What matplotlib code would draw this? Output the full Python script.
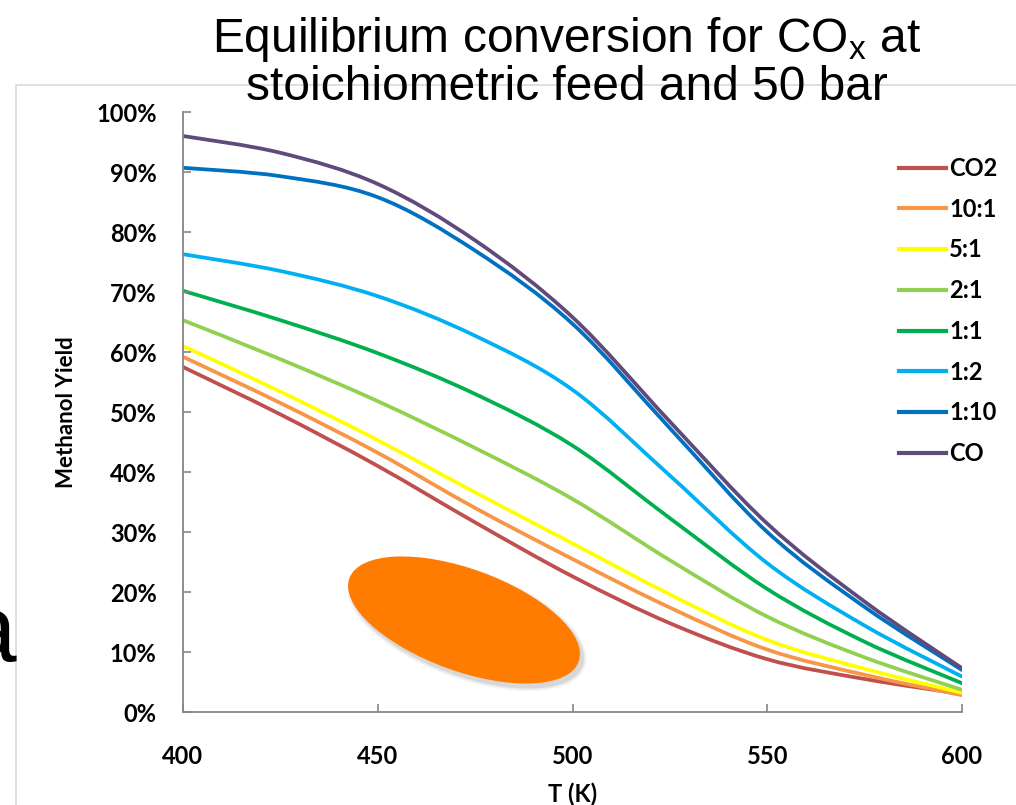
import matplotlib
matplotlib.use("Agg")
import matplotlib.pyplot as plt
from matplotlib.path import Path
from matplotlib.patches import PathPatch, Ellipse, Rectangle
from matplotlib.lines import Line2D
import numpy as np

# Temperature grid (K) and methanol yield (%) for each CO:CO2 feed ratio
temps = [400, 425, 450, 475, 500, 525, 550, 575, 600]
yield_co2 = [57.5, 49.6, 41.0, 31.6, 22.6, 14.8, 8.8, 5.5, 3.0]
yield_10_1 = [59.2, 51.5, 43.2, 34.0, 25.5, 17.4, 10.4, 6.2, 2.8]
yield_5_1 = [61.0, 53.4, 45.3, 36.6, 28.1, 19.6, 12.0, 7.2, 3.2]
yield_2_1 = [65.3, 58.8, 51.8, 44.0, 35.5, 25.3, 15.9, 9.1, 3.7]
yield_1_1 = [70.2, 65.3, 59.8, 53.0, 44.4, 32.3, 20.5, 11.7, 4.8]
yield_1_2 = [76.3, 73.5, 69.3, 62.7, 53.7, 39.4, 24.8, 14.4, 5.9]
yield_1_10 = [90.7, 89.3, 85.8, 76.9, 64.7, 47.3, 30.0, 17.5, 7.0]
yield_co = [96.0, 93.2, 88.0, 78.6, 65.8, 48.4, 31.4, 18.4, 7.3]

series_labels = ["CO2", "10:1", "5:1", "2:1", "1:1", "1:2", "1:10", "CO"]
series_values = [yield_co2, yield_10_1, yield_5_1, yield_2_1,
                 yield_1_1, yield_1_2, yield_1_10, yield_co]
series_colors = ["#c0504d", "#f79646", "#ffff00", "#92d050",
                 "#00b050", "#00b0f0", "#0070c0", "#604a7b"]

y_ticks = [0, 10, 20, 30, 40, 50, 60, 70, 80, 90, 100]
y_tick_labels = ["0%", "10%", "20%", "30%", "40%", "50%",
                 "60%", "70%", "80%", "90%", "100%"]
x_ticks = [400, 450, 500, 550, 600]

W, H = 1016, 805
label_font = "Lato"
title_font = "Liberation Sans"


def smooth_path(xs, ys):
    """Cubic Bezier path through the points (spreadsheet-style smoothing)."""
    pts = np.column_stack([xs, ys]).astype(float)
    n = len(pts)
    verts = [pts[0]]
    codes = [Path.MOVETO]
    for i in range(n - 1):
        p_prev = pts[i - 1] if i > 0 else pts[i]
        p0 = pts[i]
        p1 = pts[i + 1]
        p_next = pts[i + 2] if i + 2 < n else pts[i + 1]
        c1 = p0 + (p1 - p_prev) / 6.0
        c2 = p1 - (p_next - p0) / 6.0
        verts += [c1, c2, p1]
        codes += [Path.CURVE4] * 3
    return Path(verts, codes)


fig = plt.figure(figsize=(W / 100, H / 100), dpi=100)
fig.patch.set_facecolor("white")

# thin grey slide frame
fig.add_artist(Rectangle((16 / W, -0.2), 1.2, 1.2 - 85 / H,
                         transform=fig.transFigure, fill=False,
                         ec="#d9d9d9", lw=1.2, zorder=0))

ax = fig.add_axes([183 / W, 93 / H, 779 / W, 600 / H])
ax.set_facecolor("none")
ax.set_xlim(400, 600)
ax.set_ylim(0, 100)

for vals, col in zip(series_values, series_colors):
    patch = PathPatch(smooth_path(temps, vals), fill=False, ec=col,
                      lw=2.7, capstyle="round", joinstyle="round")
    ax.add_patch(patch)

for side in ("top", "right"):
    ax.spines[side].set_visible(False)
for side in ("left", "bottom"):
    ax.spines[side].set_color("#868686")
    ax.spines[side].set_linewidth(1.3)

ax.set_yticks(y_ticks)
ax.set_yticklabels(y_tick_labels)
ax.set_xticks(x_ticks)
ax.tick_params(axis="both", direction="in", length=6, width=1.2,
               color="#868686", labelsize=17)
ax.tick_params(axis="y", pad=19)
ax.tick_params(axis="x", pad=24)
for lbl in ax.get_xticklabels() + ax.get_yticklabels():
    lbl.set_fontfamily(label_font)
    lbl.set_fontweight("bold")

ax.set_ylabel("Methanol Yield", fontfamily=label_font, fontweight="bold",
              fontsize=16, labelpad=14)
ax.set_xlabel("T (K)", fontfamily=label_font, fontweight="bold",
              fontsize=17, labelpad=10)

handles = [Line2D([], [], color=c, lw=3) for c in series_colors]
ax.legend(handles, series_labels, loc="upper left",
          bbox_to_anchor=(899 / W, 1 - 157 / H),
          bbox_transform=fig.transFigure, frameon=False,
          prop={"family": label_font, "weight": "bold", "size": 17},
          handlelength=2.0, handletextpad=0.12, labelspacing=0.75,
          borderpad=0, borderaxespad=0)

# title
fig.text(567 / W, 1 - 40 / H, r"Equilibrium conversion for CO$_\mathregular{x}$ at",
         ha="center", va="center", fontsize=34.5, fontfamily=title_font)
fig.text(567 / W, 1 - 88 / H, "stoichiometric feed and 50 bar",
         ha="center", va="center", fontsize=34.5, fontfamily=title_font)

# stray slide letter at the left edge
fig.text(17 / W, 1 - 661 / H, "a", ha="right", va="baseline",
         fontsize=68, fontfamily=title_font)

# orange highlight ellipse with soft shadow, in pixel coordinates
over = fig.add_axes([0, 0, 1, 1])
over.set_xlim(0, W)
over.set_ylim(H, 0)
over.axis("off")
for grow, alpha in [(8, 0.03), (5, 0.05), (2, 0.08)]:
    over.add_patch(Ellipse((467, 624), 244 + grow, 102 + grow, angle=20,
                           fc="#000000", alpha=alpha, ec="none"))
over.add_patch(Ellipse((464, 620), 244, 102, angle=20, fc="#ff7c00",
                       ec="none"))

fig.savefig("out.png", dpi=100)
